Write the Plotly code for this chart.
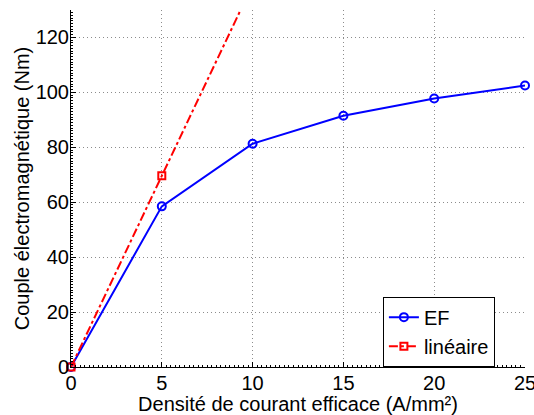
import plotly.graph_objects as go

# Data
ef_x = [0, 5, 10, 15, 20, 25]
ef_y = [0, 58.5, 81.3, 91.5, 97.8, 102.5]
lin_x = [0, 5, 10]
lin_y = [0, 69.6, 139.2]
x_ticks = [0, 5, 10, 15, 20, 25]
y_ticks = [0, 20, 40, 60, 80, 100, 120]
x_title = "Densité de courant efficace (A/mm²)"
y_title = "Couple électromagnétique (Nm)"

FONT = "Liberation Sans, Arial, Helvetica, sans-serif"

fig = go.Figure()
fig.add_trace(go.Scatter(
    x=ef_x, y=ef_y, name="EF", mode="lines+markers",
    line=dict(color="#0000ff", width=2),
    marker=dict(symbol="circle-open", size=8, color="#0000ff", line=dict(width=2)),
    cliponaxis=False,
))
fig.add_trace(go.Scatter(
    x=lin_x, y=lin_y, name="linéaire", mode="lines+markers",
    line=dict(color="#ff0000", width=2, dash="dashdot"),
    marker=dict(symbol="square-open", size=7, color="#ff0000", line=dict(width=2)),
    cliponaxis=False,
))

axis_common = dict(
    showline=True, linecolor="#000000", linewidth=1,
    ticks="inside", ticklen=5, tickwidth=1, tickcolor="#000000",
    showgrid=True, gridcolor="#8c8c8c", gridwidth=1, griddash="1px,3px",
    zeroline=False, automargin=False,
    tickfont=dict(family=FONT, size=20, color="#000000"),
    mirror=False,
)

fig.update_xaxes(
    range=[0, 25], tickmode="array", tickvals=x_ticks,
    ticktext=[str(v) for v in x_ticks],
    title=dict(text=x_title, font=dict(family=FONT, size=20, color="#000000"), standoff=0),
    ticklabeloverflow="allow", ticklabelstandoff=-2,
    minor=dict(ticks="inside", ticklen=2, dtick=0.25, tickcolor="#000000", showgrid=False),
    **axis_common,
)
fig.update_yaxes(
    range=[0, 130], tickmode="array", tickvals=y_ticks,
    ticktext=[str(v) for v in y_ticks],
    title=dict(text=y_title, font=dict(family=FONT, size=20, color="#000000"), standoff=0),
    ticklabeloverflow="allow", ticklabelstandoff=-3,
    minor=dict(ticks="inside", ticklen=2, dtick=1, tickcolor="#000000", showgrid=False),
    **axis_common,
)

fig.update_layout(
    width=534, height=415,
    margin=dict(l=71, r=9, t=10, b=48),
    paper_bgcolor="#ffffff", plot_bgcolor="#ffffff",
    font=dict(family=FONT, size=20, color="#000000"),
    showlegend=True,
    legend=dict(
        x=0.687, y=0.099, xanchor="left", yanchor="middle",
        bgcolor="#ffffff", bordercolor="#000000", borderwidth=1,
        font=dict(family=FONT, size=20, color="#000000"),
        tracegroupgap=0, itemwidth=30,
    ),
)

fig.write_html(
    "out.html",
    config={"displayModeBar": False},
    post_script="document.body.style.margin='0';document.body.style.overflow='hidden';",
)
